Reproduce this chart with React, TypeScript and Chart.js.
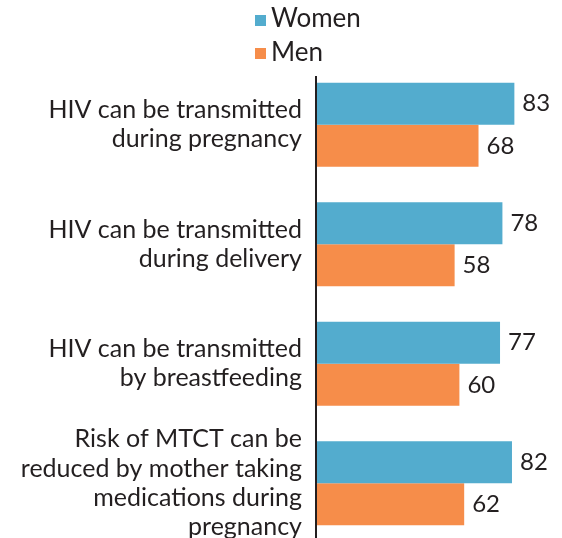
import React, { useEffect, useRef } from "react";
import { Chart, registerables } from "chart.js";

Chart.register(...registerables);

const categories: string[][] = [
  ["HIV can be transmitted", "during pregnancy"],
  ["HIV can be transmitted", "during delivery"],
  ["HIV can be transmitted", "by breastfeeding"],
  ["Risk of MTCT can be", "reduced by mother taking", "medications during", "pregnancy"],
];
const seriesNames = ["Women", "Men"];
const womenValues = [83, 78, 77, 82];
const menValues = [68, 58, 60, 62];

const WOMEN_COLOR = "#53acce";
const MEN_COLOR = "#f68d4a";
const TEXT_COLOR = "#231f20";
const FONT = "Lato, 'Open Sans', sans-serif";

export default function App() {
  const ref = useRef<HTMLCanvasElement | null>(null);

  useEffect(() => {
    if (!ref.current) return;

    const labelPlugin = {
      id: "valueLabels",
      afterDatasetsDraw(chart: any) {
        const ctx = chart.ctx;
        ctx.save();
        ctx.fillStyle = TEXT_COLOR;
        ctx.font = `24px ${FONT}`;
        ctx.textAlign = "left";
        ctx.textBaseline = "middle";
        chart.data.datasets.forEach((ds: any, di: number) => {
          const meta = chart.getDatasetMeta(di);
          meta.data.forEach((el: any, i: number) => {
            ctx.fillText(String(ds.data[i]), el.x + 8, el.y);
          });
        });
        ctx.restore();
      },
    };

    const axisLinePlugin = {
      id: "axisLine",
      afterDraw(chart: any) {
        const ctx = chart.ctx;
        const x = chart.chartArea.left;
        ctx.save();
        ctx.strokeStyle = TEXT_COLOR;
        ctx.lineWidth = 2;
        ctx.beginPath();
        ctx.moveTo(x, 76);
        ctx.lineTo(x, chart.height);
        ctx.stroke();
        ctx.restore();
      },
    };

    const legendPlugin = {
      id: "customLegend",
      afterDraw(chart: any) {
        const ctx = chart.ctx;
        const colors = [WOMEN_COLOR, MEN_COLOR];
        ctx.save();
        ctx.font = `26px ${FONT}`;
        ctx.textAlign = "left";
        ctx.textBaseline = "alphabetic";
        seriesNames.forEach((name, i) => {
          const y = 15 + i * 33;
          ctx.fillStyle = colors[i];
          ctx.fillRect(255, y, 11, 11);
          ctx.fillStyle = TEXT_COLOR;
          ctx.fillText(name, 271, 27 + i * 34);
        });
        ctx.restore();
      },
    };

    const chart = new Chart(ref.current, {
      type: "bar",
      data: {
        labels: categories,
        datasets: [
          {
            label: seriesNames[0],
            data: womenValues,
            backgroundColor: WOMEN_COLOR,
            categoryPercentage: 0.704,
            barPercentage: 1,
          },
          {
            label: seriesNames[1],
            data: menValues,
            backgroundColor: MEN_COLOR,
            categoryPercentage: 0.704,
            barPercentage: 1,
          },
        ],
      },
      options: {
        indexAxis: "y",
        animation: false,
        responsive: false,
        maintainAspectRatio: false,
        devicePixelRatio: 1,
        layout: { padding: { top: 65, bottom: 7, left: 0, right: 7 } },
        plugins: {
          legend: { display: false },
          tooltip: { enabled: false },
        },
        scales: {
          x: {
            display: false,
            min: 0,
            max: 100,
          },
          y: {
            grid: { display: false, drawTicks: false },
            border: { display: false },
            ticks: {
              color: TEXT_COLOR,
              padding: 14,
              autoSkip: false,
              font: { family: FONT, size: 25, lineHeight: 1.17 },
            },
            afterFit(scale: any) {
              scale.width = 316;
              scale.paddingTop = 0;
              scale.paddingBottom = 0;
            },
          },
        },
      },
      plugins: [labelPlugin, axisLinePlugin, legendPlugin],
    } as any);

    return () => chart.destroy();
  }, []);

  return (
    <div style={{ position: "fixed", left: 0, top: 0, width: 562, height: 550, background: "#fff" }}>
      <canvas ref={ref} width={562} height={550} style={{ display: "block", width: 562, height: 550 }} />
    </div>
  );
}
